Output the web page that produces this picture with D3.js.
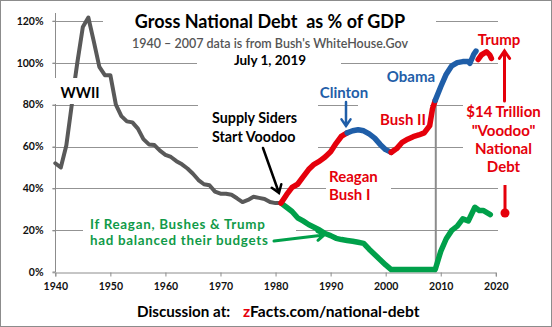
<!DOCTYPE html>
<html>
<head>
<meta charset="utf-8">
<script src="https://cdn.jsdelivr.net/npm/d3@7"></script>
<style>
  body { margin: 0; background: #fff; }
  svg { display: block; font-family: Lato, "Open Sans", sans-serif; }
</style>
</head>
<body>
<div id="chart"></div>
<script>
'use strict';

// ---- data (% of GDP) ----
const preReagan = [[1940,52],[1941,50],[1942,60.5],[1943,80],[1943.6,92.6],[1944,100],[1945,117],[1946,121.5],
  [1947,110],[1948,98],[1949,94],[1950,94],[1951,80],[1952,74.5],[1953,72],[1954,71.5],[1955,68.5],
  [1956,63.5],[1957,61],[1958,60.7],[1959,58],[1960,56],[1961,55],[1962,53],[1963,51.5],[1964,49.5],
  [1965,47],[1966,44],[1967,42],[1968,41.5],[1969,38.5],[1970,37.5],[1971,37.5],[1972,37],[1973,35.3],
  [1974,33.5],[1975,34.5],[1976,36],[1977,35.5],[1978,35],[1979,33.5],[1980,33],[1981,33]];
const reaganBush = [[1981,33],[1982,37],[1983,40.5],[1984,42],[1985,45.5],[1986,49],[1987,51.5],[1988,53],
  [1989,55],[1990,57.5],[1991,61.5],[1992,65],[1993,66.5]];
const clinton = [[1993,66.5],[1994,67.5],[1995,68],[1996,67.5],[1997,66],[1998,64],[1999,61],[2000,58.5],[2001,57.2]];
const bush2 = [[2001,57.2],[2002,59],[2003,62],[2004,63.5],[2005,64.7],[2006,65.5],[2007,66.5],[2008,70],
  [2008.5,78],[2009,82]];
const obama = [[2009,82],[2010,88.5],[2011,94.5],[2012,98.5],[2013,100],[2014,100.5],[2015,100.5],[2015.3,99.7],
  [2016,104],[2016.4,105.5]];
const trump = [[2016.8,101.5],[2017.4,103.7],[2018.3,105.2],[2018.9,103.7],[2019.2,102]];
const balanced = [[1981,33],[1982,31],[1983,29],[1984,26],[1985,24.5],[1986,22.8],[1987,21.5],[1988,20.2],
  [1989,18.5],[1990,17.5],[1991,16.2],[1992,15.6],[1993,15.2],[1994,14.8],[1995,14.3],[1996,13.8],[1997,11],
  [1998,8.5],[1999,6],[2000,3.5],[2001,1.3],[2003,1.3],[2005,1.3],[2007,1.3],[2009,1.3],[2010,10],[2011,16],
  [2012,20],[2013,22],[2014,25.5],[2015,24.5],[2016.2,31],[2017,29.5],[2017.7,29.5],[2019,27.5]];

const yearTicks = [1940,1950,1960,1970,1980,1990,2000,2010,2020];
const pctTicks = [0,20,40,60,80,100,120];

// ---- layout ----
const W = 552, H = 327;
const x = d3.scaleLinear().domain([1940,2020]).range([55.3,495.8]);
const y = d3.scaleLinear().domain([0,120]).range([272.3,20.7]);

const RED = '#e5000b', BLUE = '#1f5ea8', GREEN = '#00a04a', GRAY = '#595959', GRID = '#939393';
const x0 = Math.round(x(1940)) + 0.5;

const svg = d3.select('#chart').append('svg').attr('width', W).attr('height', H);

svg.append('rect').attr('x', 0.5).attr('y', 0.5).attr('width', W - 1).attr('height', H - 1)
  .attr('fill', '#fff').attr('stroke', '#8c8c8c');

// gridlines
svg.append('g').attr('class', 'grid').selectAll('line').data(pctTicks.filter(d => d > 0)).join('line')
  .attr('x1', x0 - 3).attr('x2', x(2020.4))
  .attr('y1', d => Math.round(y(d)) + 0.5).attr('y2', d => Math.round(y(d)) + 0.5)
  .attr('stroke', GRID).attr('stroke-width', 1);

// axes
const yAxis = d3.axisLeft(y).tickValues(pctTicks).tickSize(3).tickPadding(9).tickFormat(d => d + '%');
const xAxis = d3.axisBottom(x).tickValues(yearTicks).tickSize(4).tickPadding(6).tickFormat(d3.format('d'));

const gy = svg.append('g').attr('transform', `translate(${x0},0)`).call(yAxis);
const gx = svg.append('g').attr('transform', `translate(0,${Math.round(y(0)) + 0.5})`).call(xAxis);
[gx, gy].forEach(g => {
  g.select('.domain').attr('stroke', '#8c8c8c');
  g.selectAll('.tick line').attr('stroke', '#8c8c8c');
  g.selectAll('text').attr('fill', '#111').attr('font-size', 10.5).attr('font-weight', 'bold')
    .attr('font-family', 'Lato, sans-serif');
});
gy.select('.domain').attr('d', `M-3,${Math.round(y(0))}H0V13`);

// white boxes behind the annotations (they knock out gridlines as in the original)
const knock = [[103,4,333,46],[197,52,144,20],[198,98,120,52],[358,98,72,12],[326,166,65,38],[83,218,213,30],[463,95,80,82]];
svg.append('g').selectAll('rect').data(knock).join('rect')
  .attr('x', d => d[0]).attr('y', d => d[1]).attr('width', d => d[2]).attr('height', d => d[3])
  .attr('fill', '#fff');

// 2009 marker line
svg.append('line').attr('x1', x(2009.1)).attr('x2', x(2009.1)).attr('y1', y(0)).attr('y2', y(81))
  .attr('stroke', '#8c8c8c').attr('stroke-width', 2);

// data lines
const line = d3.line().x(d => x(d[0])).y(d => y(d[1]));
const series = [
  [balanced, GREEN, 5.5],
  [preReagan, GRAY, 4],
  [reaganBush, RED, 5.5],
  [clinton, BLUE, 5.5],
  [bush2, RED, 5.5],
  [obama, BLUE, 5.5],
  [trump, RED, 5.5]
];
svg.append('g').selectAll('path').data(series).join('path')
  .attr('d', d => line(d[0])).attr('fill', 'none')
  .attr('stroke', d => d[1]).attr('stroke-width', d => d[2])
  .attr('stroke-linejoin', 'round').attr('stroke-linecap', 'round');

// WWII label box sits over the line
svg.append('rect').attr('x', 54).attr('y', 78).attr('width', 46).attr('height', 26).attr('fill', '#fff');

// ---- text ----
function label(txt, tx, ty, opt = {}) {
  return svg.append('text').attr('x', tx).attr('y', ty).text(txt)
    .attr('font-size', opt.size || 14).attr('font-weight', opt.weight || 'bold')
    .attr('letter-spacing', opt.spacing || 0)
    .attr('fill', opt.color || '#000').attr('text-anchor', opt.anchor || 'middle');
}

label('Gross National Debt\u00a0\u00a0as % of GDP', 270, 28, { size: 18 });
label('1940 \u2013 2007 data is from Bush\'s WhiteHouse.Gov', 270, 48, { size: 12.5, color: '#555', weight: 600 });
label('July 1, 2019', 270, 65, { size: 13.5 });
label('WWII', 80, 98, { size: 14.5 });
label('Supply Siders', 212, 123, { size: 14.3, anchor: 'start' });
label('Start Voodoo', 212, 142, { size: 14.3, anchor: 'start' });
label('Clinton', 344, 98, { size: 15, color: BLUE });
label('Obama', 411, 82, { size: 15, color: BLUE });
label('Bush II', 403, 125, { size: 15, color: RED });
label('Reagan', 329, 182, { size: 15, color: RED, anchor: 'start' });
label('Bush I', 329, 200, { size: 15, color: RED, anchor: 'start' });
label('Trump', 499, 45, { size: 15, color: RED });
label('$14 Trillion', 503.5, 117, { size: 15, color: RED });
label('"Voodoo"', 503.5, 135.5, { size: 15, color: RED });
label('National', 503.5, 153.5, { size: 15, color: RED });
label('Debt', 503.5, 172, { size: 15, color: RED });
label('If Reagan, Bushes & Trump', 90, 229, { size: 13.4, spacing: 0.7, color: '#109a48', anchor: 'start' });
label('had balanced their budgets', 90, 245, { size: 13.4, spacing: 0.7, color: '#109a48', anchor: 'start' });

label('Discussion at:', 137, 317, { size: 15.2, anchor: 'start' });
const foot2 = svg.append('text').attr('x', 243).attr('y', 317).attr('font-size', 15.6).attr('font-weight', 'bold');
foot2.append('tspan').attr('fill', RED).text('z');
foot2.append('tspan').attr('fill', '#000').text('Facts.com/national-debt');

// ---- arrows ----
function arrow(x1, y1, x2, y2, color, w, head = 7) {
  const a = Math.atan2(y2 - y1, x2 - x1);
  const p1 = [x2 - head * Math.cos(a - 0.6), y2 - head * Math.sin(a - 0.6)];
  const p2 = [x2 - head * Math.cos(a + 0.6), y2 - head * Math.sin(a + 0.6)];
  svg.append('path')
    .attr('d', `M${x1},${y1}L${x2},${y2}M${p1}L${x2},${y2}L${p2}`)
    .attr('fill', 'none').attr('stroke', color).attr('stroke-width', w)
    .attr('stroke-linecap', 'round').attr('stroke-linejoin', 'miter');
}
arrow(263, 148, 279, 193, '#000', 2.5, 9);
arrow(346, 102, 346, 126, BLUE, 2.5, 8);
arrow(274, 241, 324, 235, GREEN, 3, 8);
arrow(504.5, 101, 504.5, 51, RED, 3, 9);

svg.append('line').attr('x1', 505).attr('x2', 505).attr('y1', 185).attr('y2', 212)
  .attr('stroke', RED).attr('stroke-width', 3);
svg.append('circle').attr('cx', 505).attr('cy', 213).attr('r', 4.5).attr('fill', RED);
</script>
</body>
</html>
